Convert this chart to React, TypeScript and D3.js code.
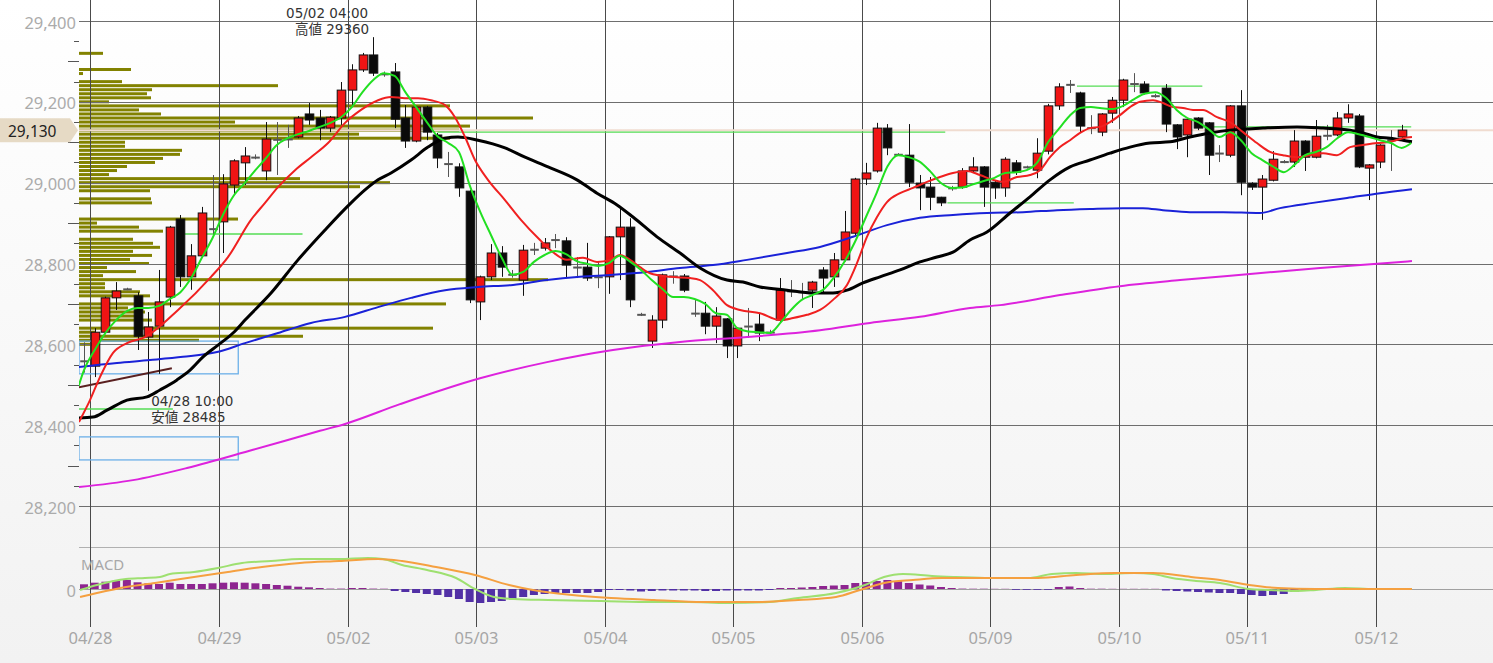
import React from "react";
import * as d3 from "d3";

// 2-hour bars, 12 per trading day
const dayLabels = ["04/28", "04/29", "05/02", "05/03", "05/04", "05/05", "05/06", "05/09", "05/10", "05/11", "05/12"];
const barsPerDay = 12;
const priceTicks = [28200, 28400, 28600, 28800, 29000, 29200, 29400];

// [open, high, low, close]
const candles: [number, number, number, number][] = [
  [28560, 28605, 28530, 28558], [28546, 28640, 28519, 28630], [28630, 28718, 28625, 28715], [28715, 28754, 28685, 28732],
  [28738, 28740, 28734, 28736], [28720, 28729, 28586, 28620], [28618, 28680, 28485, 28643], [28645, 28784, 28527, 28705],
  [28717, 28893, 28692, 28890], [28910, 28920, 28742, 28767], [28767, 28848, 28735, 28819], [28819, 28940, 28815, 28925],
  [28887, 29019, 28870, 28885], [28903, 29021, 28826, 28997], [28994, 29058, 28969, 29054], [29049, 29088, 28994, 29066],
  [29064, 29070, 29058, 29062], [29029, 29150, 29006, 29108], [29108, 29150, 29019, 29106], [29106, 29143, 29086, 29107],
  [29113, 29165, 29110, 29160], [29170, 29197, 29143, 29155], [29160, 29180, 29105, 29135], [29135, 29165, 29125, 29162],
  [29160, 29249, 29143, 29229], [29229, 29293, 29187, 29279], [29279, 29321, 29274, 29316], [29316, 29360, 29264, 29271],
  [29270, 29275, 29262, 29268], [29274, 29296, 29135, 29157], [29160, 29192, 29086, 29103], [29103, 29190, 29100, 29187],
  [29187, 29190, 29105, 29125], [29118, 29123, 29036, 29061], [29048, 29076, 29014, 29046], [29039, 29048, 28965, 28987],
  [28979, 28982, 28702, 28710], [28705, 28770, 28660, 28767], [28767, 28848, 28759, 28826], [28826, 28843, 28767, 28791],
  [28774, 28784, 28765, 28772], [28759, 28846, 28720, 28833], [28836, 28851, 28821, 28834], [28838, 28863, 28832, 28851],
  [28860, 28873, 28838, 28858], [28856, 28865, 28764, 28796], [28792, 28816, 28764, 28790], [28791, 28851, 28757, 28764],
  [28768, 28804, 28739, 28766], [28767, 28868, 28725, 28866], [28866, 28940, 28759, 28890], [28890, 28912, 28692, 28710],
  [28675, 28678, 28670, 28673], [28608, 28672, 28591, 28660], [28660, 28775, 28640, 28772], [28770, 28781, 28750, 28768],
  [28769, 28774, 28729, 28734], [28678, 28710, 28668, 28676], [28677, 28705, 28625, 28645], [28645, 28692, 28603, 28670],
  [28663, 28665, 28566, 28596], [28596, 28642, 28566, 28640], [28646, 28690, 28616, 28644], [28650, 28677, 28608, 28628],
  [28630, 28636, 28625, 28629], [28660, 28764, 28655, 28734], [28733, 28759, 28717, 28731], [28730, 28752, 28710, 28729],
  [28734, 28757, 28690, 28754], [28784, 28791, 28725, 28764], [28767, 28826, 28742, 28809], [28809, 28930, 28805, 28878],
  [28875, 29012, 28870, 29009], [29009, 29049, 28994, 29024], [29029, 29148, 29025, 29135], [29135, 29145, 29068, 29086],
  [29071, 29073, 29066, 29069], [29068, 29145, 28989, 29001], [28999, 29019, 28932, 28987], [28989, 29014, 28932, 28964],
  [28964, 28965, 28942, 28950], [28988, 28992, 28980, 28986], [28989, 29036, 28985, 29029], [29029, 29063, 29025, 29039],
  [29039, 29041, 28940, 28989], [29001, 29005, 28960, 28987], [28987, 29063, 28965, 29058], [29049, 29056, 29019, 29026],
  [29040, 29042, 29035, 29038], [29031, 29110, 29011, 29073], [29078, 29195, 29070, 29190], [29190, 29246, 29180, 29237],
  [29244, 29254, 29222, 29242], [29222, 29225, 29123, 29140], [29137, 29167, 29120, 29135], [29125, 29172, 29115, 29170],
  [29172, 29212, 29148, 29204], [29204, 29257, 29187, 29254], [29246, 29271, 29224, 29244], [29244, 29251, 29218, 29222],
  [29216, 29220, 29210, 29214], [29234, 29244, 29125, 29145], [29143, 29145, 29083, 29113], [29118, 29160, 29063, 29157],
  [29160, 29162, 29130, 29135], [29148, 29150, 29019, 29068], [29074, 29093, 29051, 29072], [29068, 29192, 29063, 29190],
  [29190, 29229, 28969, 29001], [28999, 29001, 28982, 28989], [28989, 29019, 28908, 29009], [29006, 29078, 29003, 29058],
  [29053, 29056, 29048, 29051], [29051, 29130, 29039, 29103], [29103, 29105, 29029, 29063], [29063, 29155, 29060, 29115],
  [29118, 29143, 29105, 29116], [29118, 29175, 29115, 29160], [29160, 29194, 29148, 29170], [29165, 29170, 29036, 29039],
  [29036, 29046, 28957, 29044], [29051, 29095, 29036, 29093], [29107, 29130, 29029, 29105], [29113, 29143, 29110, 29130],
];

// moving averages: [bar index, price]
const ma5: [number, number][] = [
  [-0.5, 28497], [0, 28536], [1, 28586], [2, 28628], [3, 28660], [4, 28682], [5, 28690], [6, 28690], [7, 28695], [8, 28712],
  [9, 28729], [10, 28764], [11, 28814], [12, 28863], [13, 28922], [14, 28969], [15, 28999], [16, 29031], [17, 29061], [18, 29093],
  [19, 29110], [20, 29120], [21, 29128], [22, 29138], [23, 29148], [24, 29162], [25, 29187], [26, 29224], [27, 29254], [28, 29271],
  [29, 29264], [30, 29224], [31, 29187], [32, 29150], [33, 29115], [34, 29098], [35, 29076], [36, 28994], [37, 28927], [38, 28870],
  [39, 28814], [40, 28772], [41, 28779], [42, 28804], [43, 28821], [44, 28831], [45, 28823], [46, 28806], [47, 28799], [48, 28794],
  [49, 28801], [50, 28819], [51, 28804], [52, 28784], [53, 28759], [54, 28737], [55, 28717], [56, 28717], [57, 28712], [58, 28700],
  [59, 28677], [60, 28673], [61, 28640], [62, 28632], [63, 28630], [64, 28628], [65, 28653], [66, 28685], [67, 28710], [68, 28722],
  [69, 28735], [70, 28765], [71, 28805], [72, 28855], [73, 28915], [74, 28975], [75, 29040], [76, 29068], [77, 29063], [78, 29052],
  [79, 29028], [80, 28999], [81, 28987], [82, 28988], [83, 28996], [84, 29004], [85, 29012], [86, 29024], [87, 29026], [88, 29031],
  [89, 29050], [90, 29100], [91, 29133], [92, 29165], [93, 29185], [94, 29187], [95, 29184], [96, 29182], [97, 29190], [98, 29206],
  [99, 29220], [100, 29224], [101, 29210], [102, 29180], [103, 29160], [104, 29150], [105, 29132], [106, 29113], [107, 29125], [108, 29105],
  [109, 29073], [110, 29056], [111, 29040], [112, 29026], [113, 29044], [114, 29068], [115, 29076], [116, 29088], [117, 29110], [118, 29125],
  [119, 29120], [120, 29113], [121, 29105], [122, 29098], [123, 29086], [123.9, 29098],
];

const ma10: [number, number][] = [
  [-0.47, 28408], [0.56, 28462], [1.49, 28519], [2.71, 28579], [4.01, 28603], [5.69, 28618], [8.78, 28685], [11.86, 28767],
  [13.44, 28816], [15.59, 28908], [16.9, 28950], [18.11, 28989], [19.7, 29031], [21.19, 29063], [22.78, 29098], [24.37, 29148],
  [25.86, 29180], [27.45, 29204], [28.66, 29212], [29.97, 29209], [31.18, 29209], [32.39, 29204], [33.7, 29192], [34.63, 29162],
  [35.57, 29113], [36.5, 29056], [37.71, 29007], [39.3, 28957], [40.79, 28908], [42.57, 28858], [43.78, 28828], [45.09, 28809],
  [46.58, 28814], [47.89, 28804], [49.1, 28809], [50.04, 28821], [50.97, 28809], [51.9, 28791], [52.84, 28776], [54.71, 28767],
  [56.58, 28764], [57.51, 28759], [58.72, 28734], [60.03, 28697], [61.24, 28685], [63.11, 28677], [64.97, 28660], [66.19, 28665],
  [67.49, 28673], [68.71, 28685], [69.92, 28710], [71.23, 28747], [72.16, 28801], [73.09, 28866], [74.03, 28915], [74.96, 28952],
  [76.18, 28974], [77.39, 28987], [78.7, 29002], [79.91, 29014], [81.12, 29024], [82.43, 29029], [83.64, 29019], [84.85, 29007],
  [85.78, 29002], [87.1, 29014], [88.31, 29019], [89.25, 29031], [90.18, 29063], [91.11, 29088], [92.05, 29105], [92.98, 29123],
  [93.91, 29135], [94.85, 29138], [95.78, 29150], [96.71, 29167], [97.65, 29187], [98.58, 29200], [99.79, 29204], [100.73, 29197],
  [101.66, 29187], [102.6, 29185], [103.53, 29180], [104.46, 29180], [105.77, 29162], [106.98, 29150], [108.2, 29125], [109.5, 29098],
  [110.72, 29076], [111.93, 29068], [113.24, 29063], [114.45, 29068], [115.67, 29073], [116.97, 29068], [118.19, 29088], [119.4, 29093],
  [120.71, 29098], [121.92, 29101], [123.13, 29110], [123.97, 29113],
];

const ma25: [number, number][] = [
  [-0.47, 28418], [0.84, 28420], [2.15, 28437], [4.01, 28462], [5.88, 28470], [7.09, 28487], [8.68, 28512], [9.9, 28536],
  [11.11, 28569], [12.51, 28598], [13.91, 28628], [15.03, 28660], [17.46, 28727], [19.98, 28809], [22.5, 28883], [24.93, 28950],
  [26.23, 28982], [27.45, 29007], [28.66, 29024], [30.53, 29056], [32.11, 29088], [33.7, 29110], [34.91, 29113], [36.78, 29105],
  [39.3, 29086], [41.17, 29063], [43.32, 29039], [46.02, 29007], [47.89, 28974], [49.76, 28945], [51.25, 28915], [53.49, 28866],
  [55.64, 28826], [57.51, 28789], [60.03, 28759], [61.52, 28754], [63.11, 28742], [65.63, 28734], [68.05, 28727], [69.92, 28727],
  [71.23, 28734], [72.72, 28752], [74.31, 28767], [76.18, 28784], [78.04, 28804], [79.63, 28816], [81.12, 28828], [82.71, 28858],
  [84.3, 28878], [86.45, 28925], [88.31, 28965], [90.18, 29007], [92.05, 29039], [93.91, 29056], [95.78, 29073], [97.65, 29088],
  [99.51, 29098], [101.38, 29101], [103.25, 29113], [105.12, 29123], [106.98, 29130], [110.06, 29135], [113.24, 29138], [115.67, 29135],
  [118.19, 29130], [119.4, 29123], [120.71, 29113], [121.92, 29110], [123.13, 29105], [123.97, 29101],
];

const ma75: [number, number][] = [
  [-0.47, 28544], [3.08, 28554], [6.16, 28561], [9.24, 28569], [12.42, 28581], [15.03, 28603], [18.11, 28628], [21.19, 28653],
  [24.37, 28668], [27.45, 28692], [30.53, 28715], [33.7, 28734], [36.78, 28742], [40.05, 28747], [43.22, 28759], [46.3, 28767],
  [49.38, 28772], [52.55, 28779], [55.64, 28789], [58.72, 28796], [61.89, 28809], [65.63, 28826], [68.71, 28841], [71.79, 28866],
  [74.96, 28895], [78.04, 28913], [81.12, 28920], [84.3, 28925], [87.66, 28927], [90.83, 28932], [93.91, 28935], [96.99, 28937],
  [98.86, 28937], [100.73, 28932], [103.25, 28927], [106.33, 28927], [109.78, 28925], [111.65, 28937], [114.73, 28950], [117.91, 28962],
  [120.99, 28974], [123.97, 28984],
];

const ma200: [number, number][] = [
  [-0.47, 28247], [4.57, 28264], [9.62, 28294], [15.78, 28339], [22.03, 28386], [24.37, 28403], [29.5, 28452], [36.97, 28516],
  [43.22, 28556], [49.38, 28586], [55.64, 28606], [61.89, 28618], [68.71, 28635], [73.38, 28653], [78.04, 28668], [82.71, 28690],
  [85.51, 28697], [91.11, 28722], [96.71, 28744], [102.32, 28759], [108.85, 28774], [115.39, 28789], [123.97, 28806],
];

const maLong: [number, number][] = [[-0.47, 28494], [8.2, 28541]];

// price-volume profile: [price, volume]
const volumeProfile: [number, number][] = [
  [29320, 24], [29280, 52], [29270, 4], [29250, 43], [29240, 199], [29230, 73], [29220, 68], [29210, 72], [29200, 30],
  [29190, 371], [29180, 60], [29170, 82], [29160, 454], [29150, 156], [29140, 391], [29130, 380], [29120, 280], [29110, 371],
  [29100, 46], [29090, 46], [29080, 103], [29070, 101], [29060, 84], [29050, 76], [29040, 48], [29030, 38], [29020, 30],
  [29010, 221], [29000, 311], [28990, 281], [28980, 71], [28960, 72], [28950, 73], [28910, 159], [28900, 18], [28890, 60],
  [28880, 84], [28860, 54], [28850, 74], [28840, 81], [28830, 54], [28820, 73], [28810, 51], [28800, 70], [28790, 28],
  [28780, 57], [28770, 24], [28760, 469], [28750, 26], [28740, 26], [28730, 61], [28720, 71], [28700, 367], [28690, 49],
  [28680, 66], [28670, 61], [28660, 73], [28640, 354], [28630, 16], [28620, 224], [28610, 120], [28600, 21],
];

// horizontal level lines: [price, from bar, to bar]
const levelLines: [number, number, number][] = [
  [28440, -0.47, 8.3], [28873, 9.4, 20.4], [29125, 33.0, 80.4], [28950, 80.6, 92.4], [29239, 92.7, 104.4], [29138, 104.0, 123.9],
];
// range boxes: [top price, bottom price, to bar]
const rangeBoxes: [number, number, number][] = [[28608, 28527, 14.4], [28371, 28314, 14.4]];

// MACD histogram, one value per bar
const macdHist: number[] = [
  4.7, 6.3, 7.3, 8.3, 9, 6.7, 5.7, 5, 6.3, 5, 5, 5, 5.7, 6.3, 6.7, 6.3, 5.7, 5, 4, 3.3, 2.3, 1.7, 1, 0.4, 0.4, 1, 1, 0.4, 0.3,
  -2, -3, -4, -5, -6, -8, -10, -13, -14, -13, -12, -10, -8, -6, -5, -4, -4, -4, -4, -3, -1,
  -1, -1.5, -2.5, -2, -1.5, -1.5, -1.5, -1.5, -2, -2, -1.5, -1.5, -1.5, -1.5, -1,
  1, 1, 1.5, 2, 3, 3.5, 4, 6, 7, 8, 9, 8, 6, 4.5, 3.5, 2, 1,
  0.4, 0.3, 0.3, 0.2, 0.2, -0.8, -0.8, -0.8, -0.8, 2, 2.5, 1, 0.3, 0.3, 0.2, 0.2, 0.2, 0.2, 0.2,
  -1.5, -2, -2.5, -3, -3.5, -4, -4, -5, -6, -7, -6, -5, -3, -2, -1,
  -0.5, -0.5, 0.4, 0.4, 0.3, 0.3, 0.3, 0.3,
];
const macdLine: [number, number][] = [
  [-0.37, -1], [1.21, 4], [3.92, 10], [5.69, 11], [7.09, 12], [8.03, 15], [10.27, 17], [12.51, 21], [14.75, 26], [17.46, 28],
  [20.16, 30], [23.81, 30], [26.51, 31], [27.91, 30], [29.69, 24], [32.02, 19], [34.73, 11], [36.5, 0], [38.27, -8], [40.14, -10],
  [43.32, -11], [48.26, -12], [53.21, -13], [56.39, -13], [60.03, -14], [63.95, -13], [66.66, -9], [70.2, -4], [72.91, 4], [74.68, 12],
  [76.46, 15], [79.16, 13], [81.4, 12], [84.58, 11], [88.13, 11], [90.37, 15], [92.61, 16], [95.32, 15], [98.02, 16], [99.79, 15],
  [101.57, 11], [103.81, 8], [106.05, 6], [108.76, 0], [110.53, -1], [113.24, -2], [115.01, -1], [117.72, 1], [120.43, 0], [123.97, 0],
];
const macdSignal: [number, number][] = [
  [-0.37, -8], [1.21, -4], [3.92, 2], [6.63, 6], [10.27, 12], [13.44, 17], [16.62, 22], [20.16, 26], [23.81, 28], [27.45, 30],
  [29.69, 28], [32.86, 22], [36.5, 14], [39.68, 4], [41.92, -1], [45.56, -6], [49.2, -9], [53.21, -11], [57.78, -13], [63.11, -13],
  [66.66, -11], [70.2, -8], [72.44, -1], [74.68, 6], [77.39, 9], [80.1, 11], [83.64, 11], [89.06, 11], [92.61, 14], [96.25, 16],
  [99.79, 16], [103.34, 12], [106.05, 9], [108.76, 4], [111.46, 1], [115.01, 0], [119.49, 0], [123.97, 0],
];

const highTime = "05/02 04:00";
const lowTime = "04/28 10:00";

const W = 1493;
const H = 663;
const LEFT = 79;
const MAIN_BOTTOM = 547;
const FONT = "'Noto Sans', 'DejaVu Sans', sans-serif";
const JFONT = "'DejaVu Sans', 'Noto Sans CJK JP', sans-serif";

export default function App() {
  const x = d3.scaleLinear().domain([0, 123]).range([84, 84 + 123 * 10.712]);
  const y = d3.scaleLinear().domain([28200, 29400]).range([506, 21]);
  const ym = d3.scaleLinear().domain([0, 30]).range([589, 559]);
  const vx = d3.scaleLinear().domain([0, 460]).range([0, 460]);
  const bodyW = 8.6;

  const priceLine = d3
    .line<[number, number]>()
    .x((d) => x(d[0]))
    .y((d) => y(d[1]))
    .curve(d3.curveMonotoneX);
  const macdPath = d3
    .line<[number, number]>()
    .x((d) => x(d[0]))
    .y((d) => ym(d[1]))
    .curve(d3.curveMonotoneX);

  const minor = d3.range(28200, 29401, 50).filter((v) => v % 200 !== 0);
  const last = candles[candles.length - 1][3];
  const hiIdx = d3.maxIndex(candles, (c) => c[1]);
  const loIdx = d3.minIndex(candles, (c) => c[2]);
  const fmt = d3.format(",");
  const dayX = (d: number) => Math.round(x(d * barsPerDay + 0.6)) + 0.5;

  return (
    <svg width={W} height={H} style={{ position: "fixed", left: 0, top: 0, display: "block" }} fontFamily={FONT}>
      <defs>
        <linearGradient id="bg" x1="0" y1="0" x2="0" y2="1">
          <stop offset="0" stopColor="#ffffff" />
          <stop offset="1" stopColor="#f2f2f2" />
        </linearGradient>
        <clipPath id="mainClip">
          <rect x={LEFT} y={0} width={W - LEFT} height={MAIN_BOTTOM} />
        </clipPath>
        <clipPath id="macdClip">
          <rect x={LEFT} y={MAIN_BOTTOM + 1} width={W - LEFT} height={80} />
        </clipPath>
      </defs>
      <rect x={0} y={0} width={W} height={H} fill="url(#bg)" />

      {/* volume profile */}
      <g clipPath="url(#mainClip)">
        {volumeProfile.map(([p, v], i) => (
          <rect key={i} x={LEFT} y={y(p) - 1.5} width={vx(v)} height={3} fill="#828200" />
        ))}
      </g>

      {/* horizontal grid */}
      {priceTicks.map((v) => (
        <line key={v} x1={LEFT} x2={W} y1={Math.round(y(v)) + 0.5} y2={Math.round(y(v)) + 0.5} stroke="#6e6e6e" strokeWidth={1} />
      ))}
      {minor.map((v) => (
        <line key={v} x1={v % 100 === 0 ? 68 : 74} x2={LEFT} y1={Math.round(y(v)) + 0.5} y2={Math.round(y(v)) + 0.5} stroke="#555" />
      ))}
      <line x1={LEFT} x2={W} y1={MAIN_BOTTOM + 0.5} y2={MAIN_BOTTOM + 0.5} stroke="#b0b0b0" />
      <line x1={LEFT} x2={W} y1={ym(0) + 0.5} y2={ym(0) + 0.5} stroke="#a0a0a0" />

      {/* day grid */}
      {dayLabels.map((d, i) => (
        <g key={d}>
          <line x1={dayX(i)} x2={dayX(i)} y1={0} y2={627} stroke="#4a4a4a" strokeWidth={1} />
          <text x={dayX(i)} y={637} textAnchor="middle" dominantBaseline="central" fontSize={16.5} fill="#a6a6a6">
            {d}
          </text>
        </g>
      ))}

      {/* price labels */}
      {priceTicks.map((v) => (
        <text key={v} x={76} y={y(v) + 1} textAnchor="end" dominantBaseline="central" fontSize={16.5} fill="#ababab">
          {fmt(v)}
        </text>
      ))}

      <g clipPath="url(#mainClip)">
        {/* current price line */}
        <line x1={LEFT} x2={W} y1={y(last)} y2={y(last)} stroke="#f0dcd0" strokeWidth={2} />

        {/* range boxes */}
        {rangeBoxes.map(([t, b, to], i) => (
          <rect key={i} x={LEFT} y={y(t)} width={x(to) - LEFT} height={y(b) - y(t)} fill="none" stroke="#6cb0e8" strokeWidth={1.3} />
        ))}

        {/* level lines */}
        {levelLines.map(([p, a, b], i) => (
          <line key={i} x1={x(a)} x2={x(b)} y1={y(p)} y2={y(p)} stroke="#55dd55" strokeWidth={1.3} />
        ))}

        <path d={priceLine(maLong) || ""} fill="none" stroke="#5a2020" strokeWidth={2} />

        {/* candles */}
        {candles.map(([o, h, l, c], i) => {
          const cx = Math.round(x(i)) + 0.5;
          const doji = Math.abs(c - o) < 4;
          if (doji) {
            return (
              <g key={i} stroke="#555">
                <line x1={cx} x2={cx} y1={y(h)} y2={y(l)} />
                <line x1={cx - bodyW / 2} x2={cx + bodyW / 2} y1={y(c)} y2={y(c)} strokeWidth={2} />
              </g>
            );
          }
          const top = y(Math.max(o, c));
          const bot = y(Math.min(o, c));
          return (
            <g key={i}>
              <line x1={cx} x2={cx} y1={y(h)} y2={y(l)} stroke="#111" />
              <rect x={cx - bodyW / 2} y={top} width={bodyW} height={bot - top} fill={c > o ? "#f01414" : "#0a0a0a"} stroke="#111" strokeWidth={1} />
            </g>
          );
        })}

        {/* moving averages */}
        <path d={priceLine(ma200) || ""} fill="none" stroke="#dd22dd" strokeWidth={2} />
        <path d={priceLine(ma75) || ""} fill="none" stroke="#1a22d8" strokeWidth={2} />
        <path d={priceLine(ma25) || ""} fill="none" stroke="#000" strokeWidth={3} />
        <path d={priceLine(ma10) || ""} fill="none" stroke="#f02020" strokeWidth={2} />
        <path d={priceLine(ma5) || ""} fill="none" stroke="#22e022" strokeWidth={2} />
      </g>

      {/* high / low annotations */}
      <g fontFamily={JFONT} fontSize={13.5} fill="#333">
        <text x={x(hiIdx) - 5} y={13} textAnchor="end" dominantBaseline="central">{highTime}</text>
        <text x={x(hiIdx) - 4} y={29} textAnchor="end" dominantBaseline="central">{`高値 ${candles[hiIdx][1]}`}</text>
        <text x={x(loIdx) + 3} y={401} dominantBaseline="central">{lowTime}</text>
        <text x={x(loIdx) + 3} y={417} dominantBaseline="central">{`安値 ${candles[loIdx][2]}`}</text>
      </g>

      {/* current price tag */}
      <path d={`M0,${y(last) - 12}H70L78,${y(last)}L70,${y(last) + 12}H0Z`} fill="#e6dac5" />
      <text x={8} y={y(last) + 1} dominantBaseline="central" fontSize={15.5} fill="#222">
        {fmt(last)}
      </text>

      {/* MACD panel */}
      <text x={81} y={564} dominantBaseline="central" fontSize={15} fill="#a8a8a8">MACD</text>
      <text x={76} y={ym(0) + 1} textAnchor="end" dominantBaseline="central" fontSize={16.5} fill="#ababab">0</text>
      <g clipPath="url(#macdClip)">
        {macdHist.map((v, i) => (
          <rect
            key={i}
            x={x(i) - 4}
            y={v >= 0 ? ym(v) : ym(0)}
            width={8}
            height={Math.abs(ym(v) - ym(0))}
            fill={v >= 0 ? "#8e2590" : "#5230a6"}
          />
        ))}
        <path d={macdPath(macdLine) || ""} fill="none" stroke="#9ee070" strokeWidth={2} />
        <path d={macdPath(macdSignal) || ""} fill="none" stroke="#f5a040" strokeWidth={2} />
      </g>
    </svg>
  );
}
